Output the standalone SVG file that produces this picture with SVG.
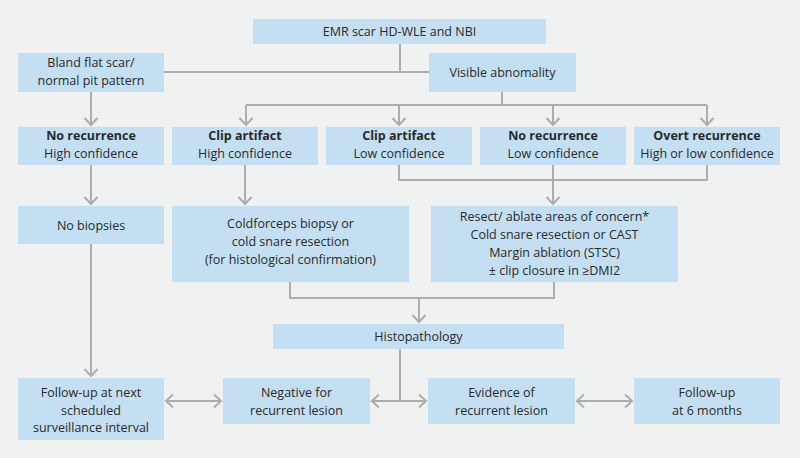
<svg xmlns="http://www.w3.org/2000/svg" width="800" height="458" viewBox="0 0 800 458">
<defs>
<style>
.bg{fill:#f0f1f1}
.box{fill:#c4dff1}
.t{font-family:"Open Sans","Noto Sans",sans-serif;font-size:12.5px;fill:#2a2a2a;text-anchor:middle}
.b{font-weight:bold}
.ln{fill:none;stroke:#adadad;stroke-width:2}
.ar{marker-end:url(#ah)}
.dbl{marker-start:url(#ah);marker-end:url(#ah)}
</style>
<marker id="ah" markerUnits="userSpaceOnUse" viewBox="-10 -8 12 16" refX="0" refY="0" markerWidth="12" markerHeight="16" orient="auto-start-reverse">
<path d="M-7,-6.5 L0,0 L-7,6.5" fill="none" stroke="#adadad" stroke-width="2"/>
</marker>
</defs>
<rect class="bg" x="0" y="0" width="800" height="458"/>
<g id="connectors">
<path class="ln" d="M400,44 V72 M164,72 H429"/>
<path class="ln ar" d="M91,92 V125"/>
<path class="ln" d="M502,92 V105 M246,105 H707"/>
<path class="ln ar" d="M246,105 V125"/>
<path class="ln ar" d="M399,105 V125"/>
<path class="ln ar" d="M553,105 V125"/>
<path class="ln ar" d="M707,105 V125"/>
<path class="ln ar" d="M91,165 V204"/>
<path class="ln ar" d="M245,165 V204"/>
<path class="ln" d="M399,165 V180 H707 V165"/>
<path class="ln ar" d="M553,165 V204"/>
<path class="ln" d="M290,282 V298 H554 V282"/>
<path class="ln ar" d="M419,298 V322"/>
<path class="ln ar" d="M91,244 V376"/>
<path class="ln" d="M400,349 V401"/>
<path class="ln ar" d="M400,401 H372"/>
<path class="ln ar" d="M400,401 H426"/>
<path class="ln dbl" d="M166,401 H221"/>
<path class="ln dbl" d="M577,401 H632"/>
</g>
<g id="n-emr"><rect class="box" x="253" y="19" width="293" height="25"/><text class="t" x="399.5" y="36">EMR scar HD-WLE and NBI</text></g>
<g id="n-bland"><rect class="box" x="18" y="53" width="146" height="39"/><text class="t" x="91" y="67">Bland flat scar/</text><text class="t" x="91" y="85">normal pit pattern</text></g>
<g id="n-visible"><rect class="box" x="429" y="53" width="147" height="39"/><text class="t" x="502.5" y="77">Visible abnomality</text></g>
<g id="n-norec-hc"><rect class="box" x="18" y="127" width="146" height="38"/><text class="t b" x="91" y="140">No recurrence</text><text class="t" x="91" y="158">High confidence</text></g>
<g id="n-clip-hc"><rect class="box" x="172" y="127" width="146" height="38"/><text class="t b" x="245" y="140">Clip artifact</text><text class="t" x="245" y="158">High confidence</text></g>
<g id="n-clip-lc"><rect class="box" x="326" y="127" width="146" height="38"/><text class="t b" x="399" y="140">Clip artifact</text><text class="t" x="399" y="158">Low confidence</text></g>
<g id="n-norec-lc"><rect class="box" x="480" y="127" width="146" height="38"/><text class="t b" x="553" y="140">No recurrence</text><text class="t" x="553" y="158">Low confidence</text></g>
<g id="n-overt"><rect class="box" x="634" y="127" width="146" height="38"/><text class="t b" x="707" y="140">Overt recurrence</text><text class="t" x="707" y="158">High or low confidence</text></g>
<g id="n-nobiopsies"><rect class="box" x="18" y="206" width="146" height="38"/><text class="t" x="91" y="230">No biopsies</text></g>
<g id="n-coldforceps"><rect class="box" x="172" y="206" width="237" height="76"/><text class="t" x="290.5" y="228">Coldforceps biopsy or</text><text class="t" x="290.5" y="246">cold snare resection</text><text class="t" x="290.5" y="264">(for histological confirmation)</text></g>
<g id="n-resect"><rect class="box" x="431" y="206" width="247" height="76"/><text class="t" x="554.5" y="221">Resect/ ablate areas of concern*</text><text class="t" x="554.5" y="239">Cold snare resection or CAST</text><text class="t" x="554.5" y="257">Margin ablation (STSC)</text><text class="t" x="554.5" y="275">± clip closure in ≥DMI2</text></g>
<g id="n-histo"><rect class="box" x="273" y="324" width="291" height="25"/><text class="t" x="418.5" y="341">Histopathology</text></g>
<g id="n-followup-next"><rect class="box" x="18" y="378" width="146" height="62"/><text class="t" x="91" y="397">Follow-up at next</text><text class="t" x="91" y="414.5">scheduled</text><text class="t" x="91" y="432">surveillance interval</text></g>
<g id="n-negative"><rect class="box" x="223" y="378" width="147" height="46"/><text class="t" x="296.5" y="397">Negative for</text><text class="t" x="296.5" y="414.5">recurrent lesion</text></g>
<g id="n-evidence"><rect class="box" x="428" y="378" width="147" height="46"/><text class="t" x="501.5" y="397">Evidence of</text><text class="t" x="501.5" y="414.5">recurrent lesion</text></g>
<g id="n-followup-6"><rect class="box" x="634" y="378" width="146" height="46"/><text class="t" x="707" y="397">Follow-up</text><text class="t" x="707" y="414.5">at 6 months</text></g>
</svg>
